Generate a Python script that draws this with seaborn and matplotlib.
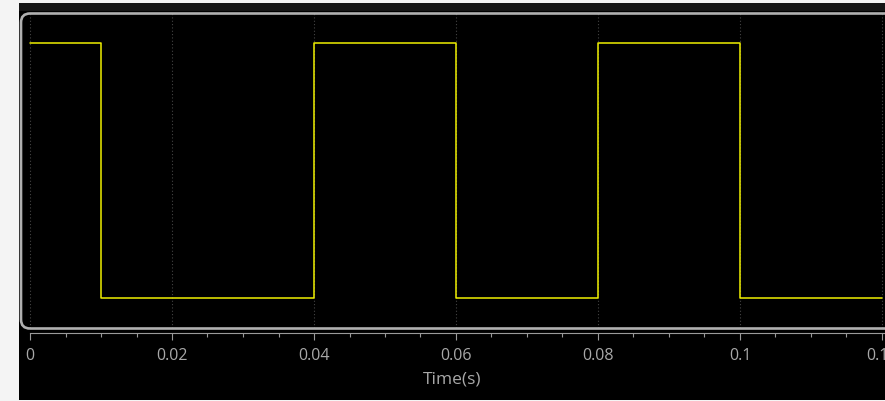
import numpy as np
import pandas as pd
import seaborn as sns
import matplotlib
matplotlib.use("Agg")
import matplotlib.pyplot as plt
from matplotlib.patches import Rectangle, FancyBboxPatch
from matplotlib.transforms import IdentityTransform
from matplotlib.ticker import MultipleLocator

# Square-wave signal: level held from each switching instant to the next
time_s = [0.0, 0.01, 0.04, 0.06, 0.08, 0.10, 0.12]
level = [1, 0, 1, 0, 1, 0, 0]
tick_values = [0.0, 0.02, 0.04, 0.06, 0.08, 0.10, 0.12]
tick_labels = ["0", "0.02", "0.04", "0.06", "0.08", "0.1", "0.12"]

df = pd.DataFrame({"Time(s)": time_s, "Level": level})

sns.set_theme(style="dark")
plt.rcParams["font.family"] = ["Open Sans", "DejaVu Sans"]

W, H = 885, 402
fig = plt.figure(figsize=(W / 100, H / 100), dpi=100, facecolor="#f4f4f4")

# Dark scope panel and its title strip (pixel coordinates, origin bottom-left)
fig.patches.append(Rectangle((19, 1), W - 19, H - 5, transform=IdentityTransform(),
                             facecolor="black", edgecolor="none", zorder=-2))
fig.patches.append(Rectangle((19, H - 12), W - 19, 8, transform=IdentityTransform(),
                             facecolor="#151515", edgecolor="none", zorder=-1))

left_px, top_px, bottom_px = 20, 14, 329
ax = fig.add_axes([left_px / W, (H - bottom_px) / H, 1 - left_px / W, (bottom_px - top_px) / H])
ax.set_facecolor("black")
ax.set_zorder(1)

sns.lineplot(data=df, x="Time(s)", y="Level", ax=ax, drawstyle="steps-post",
             color="#f0f000", linewidth=1.1, zorder=3)

px_per_unit = 7100.0
ax.set_xlim(-10 / px_per_unit, -10 / px_per_unit + (W - left_px) / px_per_unit)
ax.set_ylim(-30 / 255, 1 + 30 / 255)

ax.set_xticks(tick_values)
ax.set_xticklabels(tick_labels)
ax.xaxis.set_minor_locator(MultipleLocator(0.005))
ax.set_yticks([])
ax.set_ylabel("")

for side in ["top", "right", "left"]:
    ax.spines[side].set_visible(False)
sp = ax.spines["bottom"]
sp.set_position(("outward", 3.6))
sp.set_color("#9a9a9a")
sp.set_linewidth(0.8)
sp.set_bounds(0, 0.125)

ax.tick_params(axis="x", which="major", direction="out", length=5.2, width=0.8,
               color="#9a9a9a", labelcolor="#a8a8a8", labelsize=11.5, pad=5, bottom=True)
ax.tick_params(axis="x", which="minor", direction="out", length=2.6, width=0.8,
               color="#9a9a9a", bottom=True)
ax.set_xlabel("Time(s)", color="#a8a8a8", fontsize=12.5, labelpad=5)

ax.grid(False)
for t in tick_values:
    ax.axvline(t, color="#444444", linestyle=(0, (1, 2)), linewidth=0.8, zorder=1)

# Rounded frame around the trace area
frame = FancyBboxPatch((left_px + 1, H - bottom_px - 0.5), W + 20 - left_px, bottom_px - top_px,
                       boxstyle="round,pad=0,rounding_size=9", transform=IdentityTransform(),
                       facecolor="none", edgecolor="#b0b0b0", linewidth=1.9, zorder=5)
fig.patches.append(frame)

fig.savefig("out.png", dpi=100, facecolor=fig.get_facecolor())
